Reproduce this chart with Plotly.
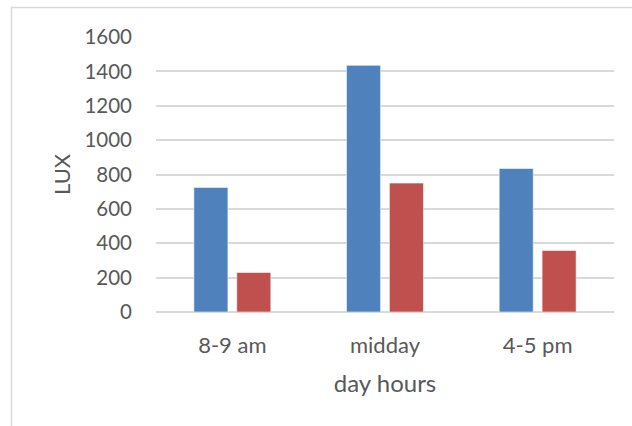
import plotly.graph_objects as go

# Illuminance readings (lux) at three times of day
hours = ["8-9 am", "midday", "4-5 pm"]
series_a = [725, 1435, 835]
series_b = [230, 750, 358]
y_ticks = [0, 200, 400, 600, 800, 1000, 1200, 1400, 1600]

W, H = 632, 426
ML, MR, MT, MB = 156, 18, 37, 114
plot_w = W - ML - MR
plot_h = H - MT - MB

text_color = "#595959"
font_family = "Lato, 'Open Sans', sans-serif"

fig = go.Figure()
fig.add_trace(go.Bar(
    x=hours, y=series_a, width=0.223, offset=-0.252,
    marker=dict(color="#4F81BD", line=dict(color="rgba(255,255,255,0.55)", width=1)),
    showlegend=False,
))
fig.add_trace(go.Bar(
    x=hours, y=series_b, width=0.223, offset=0.029,
    marker=dict(color="#C0504D", line=dict(color="rgba(255,255,255,0.55)", width=1)),
    showlegend=False,
))

# light outer frame around the chart area
fig.add_shape(
    type="rect", xref="paper", yref="paper",
    x0=(11.5 - ML) / plot_w, x1=(W + 10 - ML) / plot_w,
    y0=-(H + 10 - MT - plot_h) / plot_h, y1=1 + (MT - 7.5) / plot_h,
    line=dict(color="#d9d9d9", width=1.5), layer="below",
)

fig.update_layout(
    width=W, height=H,
    margin=dict(l=ML, r=MR, t=MT, b=MB),
    barmode="overlay",
    plot_bgcolor="white", paper_bgcolor="white",
    font=dict(family=font_family, color=text_color, size=20),
    xaxis=dict(
        type="category", showgrid=False, showline=False, ticks="",
        ticklabelstandoff=18,
        tickfont=dict(size=22, color=text_color),
        title=dict(text="day hours", font=dict(size=24, color=text_color), standoff=18),
    ),
    yaxis=dict(
        range=[0, 1600], tickvals=y_ticks, showgrid=True,
        gridcolor="#d9d9d9", gridwidth=2, zeroline=True, zerolinecolor="#d9d9d9",
        zerolinewidth=2, showline=False, ticks="", ticklabelstandoff=23,
        tickfont=dict(size=20.5, color=text_color),
        title=dict(text="LUX", font=dict(size=22, color=text_color), standoff=7),
    ),
)

fig.write_html("out.html")
